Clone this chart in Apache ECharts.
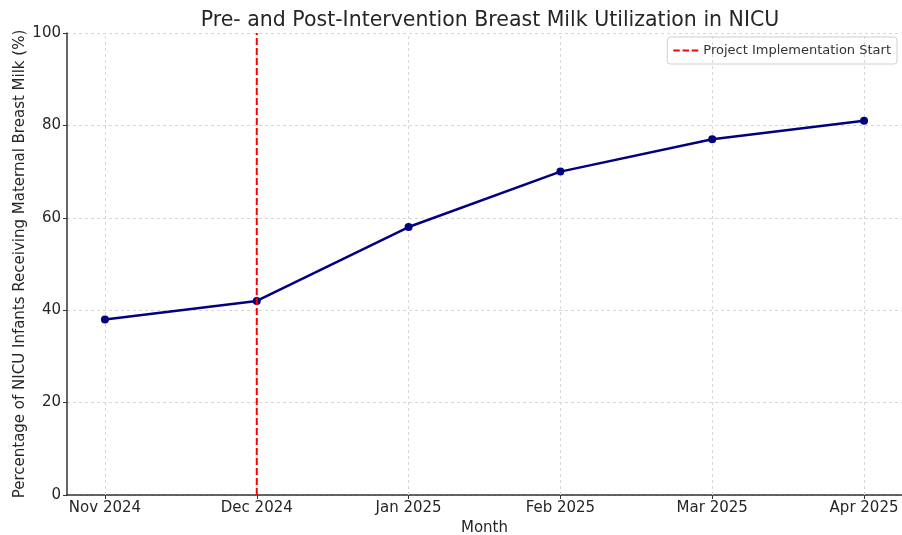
<!DOCTYPE html>
<html>
<head>
<meta charset="utf-8">
<script src="https://cdn.jsdelivr.net/npm/echarts@6/dist/echarts.min.js"></script>
<style>
  html, body { margin: 0; padding: 0; background: #fff; }
  #chart { width: 902px; height: 535px; }
</style>
</head>
<body>
<div id="chart"></div>
<script>
const months = ['Nov 2024', 'Dec 2024', 'Jan 2025', 'Feb 2025', 'Mar 2025', 'Apr 2025']
const utilization = [38, 42, 58, 70, 77, 81]
const yTicks = [0, 20, 40, 60, 80, 100]
const interventionIndex = 1

const font = 'DejaVu Sans'
const chart = echarts.init(document.getElementById('chart'))

// 图例里的虚线图标
const dashIcon = 'path://M0,0h7v2h-7z M10,0h7v2h-7z M20,0h7v2h-7z'

const option = {
  animation: false,
  title: {
    text: 'Pre- and Post-Intervention Breast Milk Utilization in NICU',
    left: 485,
    textAlign: 'center',
    top: 5,
    textStyle: { fontFamily: font, fontSize: 20.5, fontWeight: 'normal', color: '#262626' }
  },
  legend: {
    right: 5,
    top: 37,
    itemWidth: 25,
    itemHeight: 3,
    itemGap: 8,
    padding: [7, 6, 7, 6],
    borderColor: '#d0d0d0',
    borderWidth: 1,
    borderRadius: 3,
    textStyle: { fontFamily: font, fontSize: 13, color: '#333' },
    data: [{ name: 'Project Implementation Start', icon: dashIcon, itemStyle: { color: '#ff0000' } }]
  },
  grid: { left: 67, right: 0, top: 33, bottom: 40, outerBoundsMode: 'none' },
  xAxis: {
    type: 'value',
    min: -0.25,
    max: 5.25,
    name: 'Month',
    nameLocation: 'middle',
    nameGap: 26,
    nameMoveOverlap: false,
    nameTextStyle: { fontFamily: font, fontSize: 15, color: '#262626' },
    axisLine: { onZero: false, lineStyle: { color: '#333', width: 1.5 } },
    axisTick: { show: true, customValues: [0, 1, 2, 3, 4, 5], length: 4, lineStyle: { color: '#333' } },
    axisLabel: {
      customValues: [0, 1, 2, 3, 4, 5],
      formatter: v => months[Math.round(v)] || '',
      fontFamily: font, fontSize: 15, color: '#262626', margin: 6
    },
    splitLine: { show: false }
  },
  yAxis: {
    type: 'value',
    min: 0,
    max: 100,
    interval: 20,
    name: 'Percentage of NICU Infants Receiving Maternal Breast Milk (%)',
    nameLocation: 'middle',
    nameGap: 39,
    nameMoveOverlap: false,
    nameTextStyle: { fontFamily: font, fontSize: 15, color: '#262626' },
    axisLine: { show: true, onZero: false, lineStyle: { color: '#333', width: 1.5 } },
    axisTick: { show: true, length: 4, lineStyle: { color: '#333' } },
    axisLabel: {
      formatter: v => yTicks.includes(v) ? String(v) : '',
      fontFamily: font, fontSize: 15, color: '#262626', margin: 6
    },
    splitLine: { show: true, lineStyle: { color: '#d6d6d6', type: [3, 3] } }
  },
  series: [
    {
      name: 'grid-x',
      type: 'line',
      data: [],
      silent: true,
      z: 1,
      markLine: {
        symbol: 'none',
        silent: true,
        z: 1,
        label: { show: false },
        lineStyle: { color: '#d6d6d6', type: [3, 3], width: 1 },
        data: months.map((m, i) => ({ xAxis: i })).filter((d, i) => i !== interventionIndex)
      }
    },
    {
      name: 'Utilization',
      type: 'line',
      data: utilization.map((v, i) => [i, v]),
      symbol: 'circle',
      symbolSize: 8,
      lineStyle: { color: '#000080', width: 2.5 },
      itemStyle: { color: '#000080', borderColor: '#000080', borderWidth: 0 },
      z: 3
    },
    {
      name: 'Project Implementation Start',
      type: 'line',
      data: [[interventionIndex, 0], [interventionIndex, 100]],
      symbol: 'none',
      lineStyle: { color: '#ff0000', width: 2, type: [7, 3] },
      itemStyle: { color: '#ff0000' },
      z: 4
    }
  ]
}
chart.setOption(option)
</script>
</body>
</html>
